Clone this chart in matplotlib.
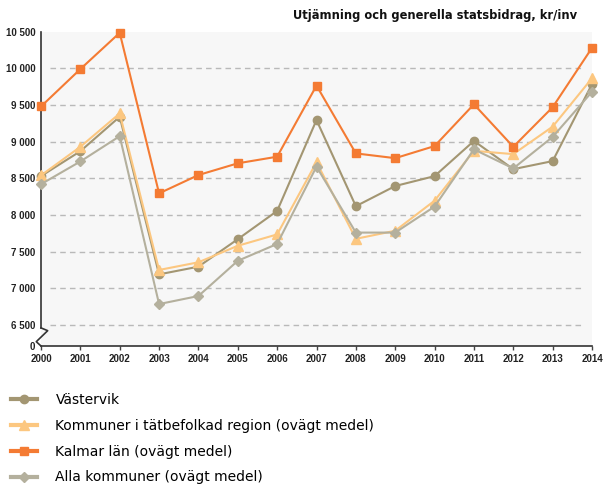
import matplotlib.pyplot as plt
from matplotlib.lines import Line2D
import numpy as np

years = list(range(2000, 2015))
vastervik = [8530, 8870, 9340, 7190, 7295, 7670, 8055, 9295, 8120, 8395, 8530, 9010, 8625, 8735, 9785]
tatbefolkad = [8540, 8930, 9385, 7250, 7355, 7580, 7735, 8720, 7675, 7785, 8195, 8875, 8830, 9205, 9865]
kalmar = [9480, 9990, 10485, 8295, 8545, 8705, 8795, 9765, 8840, 8775, 8940, 9510, 8930, 9470, 10280]
alla = [8420, 8730, 9075, 6785, 6895, 7375, 7605, 8660, 7760, 7760, 8115, 8895, 8635, 9065, 9680]

series = [
    ("Västervik", vastervik, "#a39672", "o", 6.0),
    ("Kommuner i tätbefolkad region (ovägt medel)", tatbefolkad, "#fcc780", "^", 7.0),
    ("Kalmar län (ovägt medel)", kalmar, "#f47b33", "s", 6.0),
    ("Alla kommuner (ovägt medel)", alla, "#b4b09d", "D", 5.5),
]
yticks = [6500, 7000, 7500, 8000, 8500, 9000, 9500, 10000, 10500]
ybottom = 6213

fig = plt.figure(figsize=(6.03, 4.88), dpi=100)
ax = fig.add_axes([41 / 603, 1 - 346 / 488, (592 - 41) / 603, (346 - 31.7) / 488])
ax.set_facecolor("#f7f7f7")

for label, vals, col, mk, ms in series:
    ax.plot(years, vals, color=col, lw=1.5, marker=mk, ms=ms, mec=col, mfc=col,
            label=label, clip_on=False, zorder=3)

for v in yticks[:-1]:
    ax.axhline(v, xmin=0.016, xmax=0.984, color="#b9b9b9", lw=1, ls=(0, (4, 3)), zorder=1)

ax.set_xlim(2000, 2014)
ax.set_ylim(ybottom, 10500)
ax.set_xticks(years)
ax.set_yticks([ybottom] + yticks)
ax.set_yticklabels(["0"] + [f"{v:,}".replace(",", " ") for v in yticks])

tickfont = dict(family="Liberation Sans", weight="bold", size=7)
for t in ax.get_xticklabels() + ax.get_yticklabels():
    t.set_fontproperties(tickfont)
    t.set_color("#222222")
ax.tick_params(axis="y", length=0, pad=4)
ax.tick_params(axis="x", length=3, width=1, color="#444444", pad=3)

for s in ["top", "right"]:
    ax.spines[s].set_visible(False)
ax.spines["left"].set_bounds(6460, 10500)
ax.spines["left"].set_color("#333333")
ax.spines["bottom"].set_color("#333333")
ax.spines["left"].set_linewidth(1.2)
ax.spines["bottom"].set_linewidth(1.2)

# axis break
brk = Line2D([2000, 2000.17, 1999.88, 2000], [6460, 6422, 6272, 6213],
             color="#333333", lw=1.2, clip_on=False, transform=ax.transData)
ax.add_line(brk)

fig.text(577 / 603, 1 - 15 / 488, "Utjämning och generella statsbidrag, kr/inv",
         ha="right", va="center", fontsize=8.3, weight="bold", family="DejaVu Sans", color="#111111")

handles = [Line2D([], [], color=c, lw=3, marker=m, ms=ms, mec=c, mfc=c) for _, _, c, m, ms in series]
leg = fig.legend(handles, [s[0] for s in series], loc="upper left", bbox_to_anchor=(11 / 603, 1 - 393 / 488),
                 frameon=False, prop=dict(family="DejaVu Sans", size=10), handlelength=1.9,
                 handletextpad=1.3, labelspacing=0.85, borderaxespad=0, borderpad=0)

fig.savefig("out.png", dpi=100)
